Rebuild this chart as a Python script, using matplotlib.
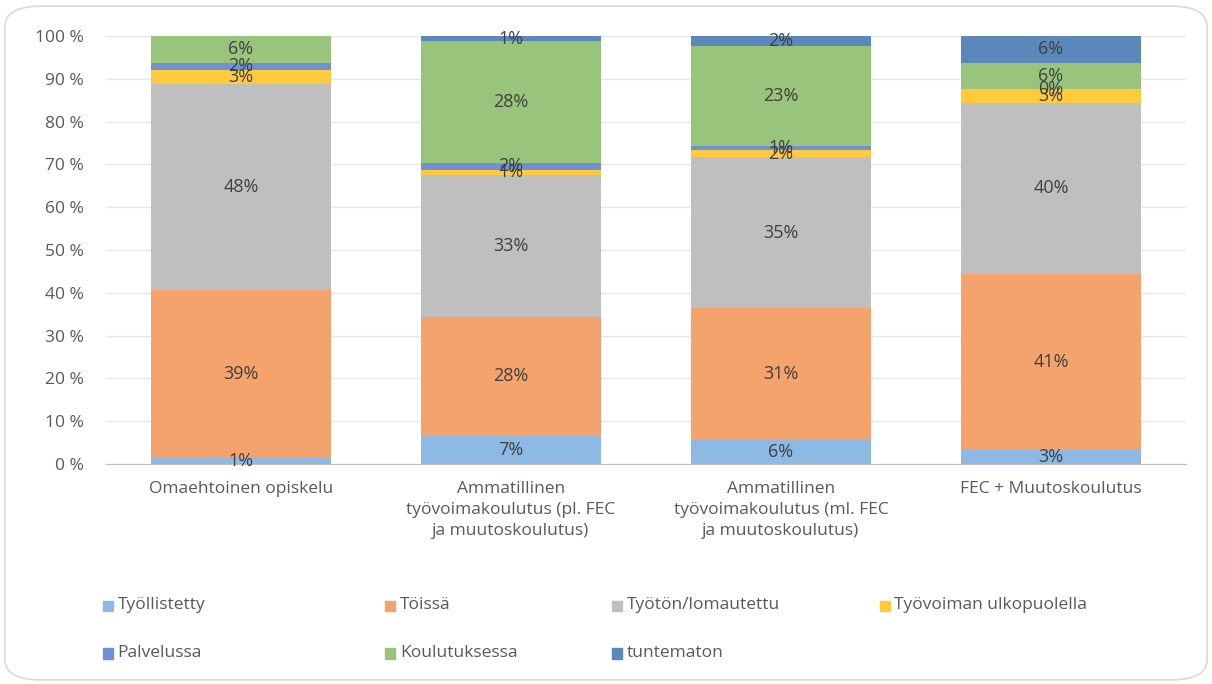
import matplotlib
matplotlib.use("Agg")
import matplotlib.pyplot as plt
import numpy as np
from matplotlib.patches import Rectangle, FancyBboxPatch

plt.rcParams['font.family'] = ['Open Sans', 'DejaVu Sans']

categories = ['Omaehtoinen opiskelu',
              'Ammatillinen\ntyövoimakoulutus (pl. FEC\nja muutoskoulutus)',
              'Ammatillinen\ntyövoimakoulutus (ml. FEC\nja muutoskoulutus)',
              'FEC + Muutoskoulutus']

series_names = ['Työllistetty', 'Töissä', 'Työtön/lomautettu', 'Työvoiman ulkopuolella',
                'Palvelussa', 'Koulutuksessa', 'tuntematon']

tyollistetty = [1.4, 6.6, 5.6, 3.3]
toissa = [39.2, 27.7, 30.8, 41.1]
tyoton = [48.1, 33.3, 35.3, 40.0]
ulkopuolella = [3.4, 1.2, 1.6, 3.2]
palvelussa = [1.7, 1.6, 1.1, 0.0]
koulutuksessa = [6.2, 28.4, 23.2, 6.1]
tuntematon = [0.0, 1.2, 2.4, 6.3]

colors = ['#8db9e4', '#f4a36c', '#bfbfbf', '#ffcb3c', '#6f92d4', '#99c47c', '#5b87bb']

series = [tyollistetty, toissa, tyoton, ulkopuolella, palvelussa, koulutuksessa, tuntematon]

fig = plt.figure(figsize=(12.12, 6.84), dpi=100)
ax = fig.add_axes([0.0875, 0.3216, 0.891, 0.6258])

x = np.arange(len(categories))
bottom = np.zeros(len(categories))
for name, vals, col in zip(series_names, series, colors):
    vals = np.array(vals) / 100
    ax.bar(x, vals, 0.667, bottom=bottom, color=col, label=name, zorder=2)
    for xi, b, v in zip(x, bottom, vals):
        # no label for the empty 'tuntematon' segment of the first bar
        if name == 'tuntematon' and v == 0:
            continue
        ax.text(xi, b + v / 2, f'{round(v * 100):.0f}%', ha='center', va='center',
                fontsize=13, color='#404040', zorder=3)
    bottom += vals

ax.set_xlim(-0.5, len(categories) - 0.5)
ax.set_ylim(0, 1)
ax.set_yticks(np.arange(0, 1.01, 0.1))
ax.set_yticklabels([f'{v} %' for v in range(0, 101, 10)])
ax.grid(axis='y', color='#e6e6e6', linewidth=1, zorder=0)
for s in ['top', 'right', 'left']:
    ax.spines[s].set_visible(False)
ax.spines['bottom'].set_color('#bfbfbf')
ax.tick_params(axis='y', length=0, labelsize=12.5, labelcolor='#595959', pad=16)
ax.tick_params(axis='x', length=0, labelsize=12.5, labelcolor='#595959', pad=12)
ax.set_xticks(x)
ax.set_xticklabels(categories, linespacing=1.45, va='top')

# legend laid out like the original (two rows)
leg_pos = [(0.085, 0.115), (0.318, 0.115), (0.505, 0.115), (0.726, 0.115),
           (0.085, 0.046), (0.318, 0.046), (0.505, 0.046)]
for (lx, ly), name, col in zip(leg_pos, series_names, colors):
    fig.add_artist(Rectangle((lx, ly - 0.009), 0.0082, 0.0155, color=col,
                             transform=fig.transFigure))
    fig.text(lx + 0.012, ly, name, fontsize=12.5, color='#595959', va='center')

fig.add_artist(FancyBboxPatch((0.004, 0.006), 0.992, 0.985,
                              boxstyle='round,pad=0,rounding_size=0.03',
                              transform=fig.transFigure, fill=False,
                              edgecolor='#d9d9d9', linewidth=1.2))

fig.savefig('out.png', dpi=100)
